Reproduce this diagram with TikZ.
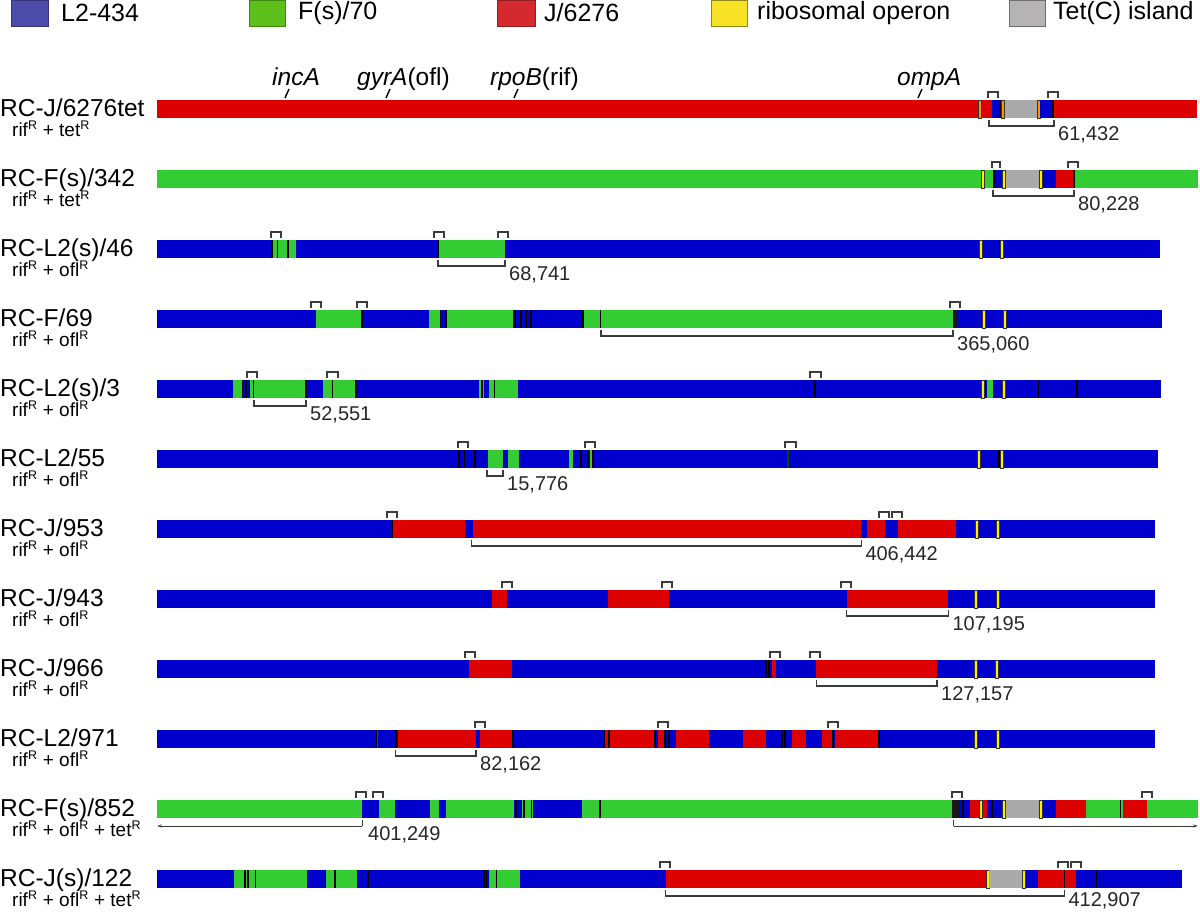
\documentclass[tikz,border=0pt]{standalone}
\usepackage{fontspec}
\setmainfont{Liberation Sans}
\usetikzlibrary{arrows.meta}
\definecolor{barblue}{RGB}{0,0,204}
\definecolor{bargreen}{RGB}{51,204,51}
\definecolor{barred}{RGB}{221,0,0}
\definecolor{bargray}{RGB}{170,170,170}
\definecolor{ribc}{RGB}{255,236,0}
\definecolor{ribo}{RGB}{255,150,0}
\definecolor{lblue}{RGB}{75,75,170}
\definecolor{lgreen}{RGB}{92,191,26}
\definecolor{lred}{RGB}{212,42,47}
\definecolor{lyellow}{RGB}{247,226,37}
\definecolor{lgray}{RGB}{181,179,179}
\definecolor{brkc}{RGB}{60,60,60}
\tikzset{
  sep/.style={line width=1.6pt,black},
  brk/.style={line width=1.1pt,brkc},
  num/.style={anchor=base west,inner sep=0pt,font=\fontsize{20}{22}\selectfont,text=black!85},
  rowlab/.style={anchor=base west,inner sep=0pt,font=\fontsize{24.5}{26}\selectfont},
  sublab/.style={anchor=base west,inner sep=0pt,font=\fontsize{19}{20}\selectfont},
  legbox/.style={line width=0.8pt},
  legtxt/.style={anchor=west,inner sep=0pt,font=\fontsize{25}{27}\selectfont},
  gene/.style={anchor=base west,inner sep=0pt,font=\fontsize{24.5}{26}\selectfont},
  tick/.style={line width=1.4pt,black}
}
\def\RY{100}
\newcommand\sgm[3]{\fill[#3] (#1,\RY) rectangle (#2,\RY+18);}
\newcommand\blk[1]{\draw[sep] (#1,\RY) -- (#1,\RY+18);}
\newcommand\rib[2][ribc]{\filldraw[fill=#1,draw=black!80,line width=0.5pt] (#2-1.6,\RY) rectangle (#2+1.6,\RY+18);}
\newcommand\tbr[2]{\draw[brk] (#1,\RY-2) -- (#1,\RY-8) -- (#2,\RY-8) -- (#2,\RY-2);}
\newcommand\bbr[5][40]{\draw[brk] (#2,\RY+20) -- (#2,\RY+26) -- (#3,\RY+26) -- (#3,\RY+20);
  \node[num] (#5) at (#3+4,\RY+#1) {#4};}
\newcommand\labs[4]{\node[rowlab] (#1) at (0,\RY+16) {#2};
  \node[sublab] (#3) at (12,\RY+36) {#4};}
\newcommand\RR{\textsuperscript{\fontsize{12.5}{13}\selectfont R}}
\begin{document}
\begin{tikzpicture}[x=1pt,y=-1pt]
\useasboundingbox (0,0) rectangle (1200,911);
% legend
\filldraw[legbox,fill=lblue,draw=lblue!70!black] (11,0) rectangle (48,26);
\node[legtxt] (g1) at (61,13) {L2-434};
\filldraw[legbox,fill=lgreen,draw=lgreen!70!black] (249,0) rectangle (285,26);
\node[legtxt] (g2) at (298,13) {F(s)/70};
\filldraw[legbox,fill=lred,draw=lred!70!black] (497,0) rectangle (535,26);
\node[legtxt] (g3) at (544,13) {J/6276};
\filldraw[legbox,fill=lyellow,draw=lyellow!60!black] (711,0) rectangle (747,26);
\node[legtxt] (g4) at (757,13) {ribosomal operon};
\filldraw[legbox,fill=lgray,draw=lgray!60!black] (1009,0) rectangle (1045,26);
\node[legtxt] (g5) at (1053,13) {Tet(C) island};
% genes
\node[gene] (incA) at (272,85) {\itshape incA};
\draw[tick] (285,98) -- (289,89);
\node[gene] (gyrA) at (357,85) {\itshape gyrA\upshape(ofl)};
\draw[tick] (386,98) -- (390,89);
\node[gene] (rpoB) at (490,85) {\itshape rpoB\upshape(rif)};
\draw[tick] (514,98) -- (518,89);
\node[gene] (ompA) at (897,85) {\itshape ompA};
\draw[tick] (918,98) -- (922,89);
% row 1
\def\RY{100}
\labs{l1}{RC-J/6276tet}{s1}{rif\RR\ + tet\RR}
\sgm{157}{1197}{barred}
\rib[ribo]{980}
\sgm{992}{1001}{barblue}\blk{1001}
\rib[ribo]{1003}
\sgm{1005}{1037}{bargray}
\rib[ribo]{1038.5}
\sgm{1040}{1052}{barblue}\blk{1053}
\tbr{988}{998}\tbr{1048}{1058}
\bbr{989}{1054}{61,432}{n1}
% row 2
\def\RY{170}
\labs{l2}{RC-F(s)/342}{s2}{rif\RR\ + tet\RR}
\sgm{157}{1198}{bargreen}
\rib{983}
\sgm{993}{1002}{barblue}\blk{994}
\rib{1004}
\sgm{1006}{1039}{bargray}
\rib{1041}
\sgm{1043}{1056}{barblue}
\sgm{1056}{1073}{barred}\blk{1074}
\tbr{992}{1000}\tbr{1068}{1078}
\bbr{993}{1074}{80,228}{n2}
% row 3
\def\RY{240}
\labs{l3}{RC-L2(s)/46}{s3}{rif\RR\ + ofl\RR}
\sgm{157}{1160}{barblue}
\sgm{271}{296}{bargreen}\blk{272}\blk{277.5}\blk{288}
\sgm{438}{505}{bargreen}\draw[black,line width=0.8pt] (438,240) -- (438,258) (505,240) -- (505,258);
\rib{981}\blk{999.5}\rib{1002}
\tbr{271}{281}\tbr{434}{444}\tbr{498}{508}
\bbr{438}{505}{68,741}{n3}
% row 4
\def\RY{310}
\labs{l4}{RC-F/69}{s4}{rif\RR\ + ofl\RR}
\sgm{157}{1162}{barblue}
\sgm{316}{362}{bargreen}\blk{362}
\sgm{429}{440}{bargreen}\blk{440.5}\blk{446}
\sgm{447}{513}{bargreen}\blk{515}\blk{521}\blk{526}\blk{531}
\sgm{582}{953}{bargreen}\blk{583}\blk{600.5}
\sgm{953}{958}{black!90}
\rib{983.4}\rib{1004.4}
\tbr{311}{321}\tbr{357}{367}\tbr{950}{960}
\bbr{601}{953}{365,060}{n4}
% row 5
\def\RY{380}
\labs{l5}{RC-L2(s)/3}{s5}{rif\RR\ + ofl\RR}
\sgm{157}{1161}{barblue}
\sgm{233}{306}{bargreen}
\sgm{242}{250}{barblue}\blk{242.5}\blk{246}\blk{249.5}\blk{253.5}\blk{306}
\sgm{322.7}{356}{bargreen}\blk{332.5}\blk{356}
\sgm{479}{518}{bargreen}\blk{482}\sgm{484}{489}{barblue}\blk{494.5}
\blk{815}
\rib{983}\blk{985.5}\sgm{987}{993}{bargreen}\rib{1004}
\blk{1038.5}\blk{1077}
\tbr{247}{257}\tbr{327}{338}\tbr{810}{821}
\bbr{254}{306}{52,551}{n5}
% row 6
\def\RY{450}
\labs{l6}{RC-L2/55}{s6}{rif\RR\ + ofl\RR}
\sgm{157}{1158}{barblue}
\blk{459}\blk{461.5}\blk{464.5}\blk{475}
\sgm{487.7}{502.7}{bargreen}\blk{503.5}
\sgm{508.3}{519}{bargreen}
\sgm{569}{572.7}{bargreen}\blk{580.7}\blk{588}\sgm{590}{592}{bargreen}\blk{593}
\draw[line width=1.6pt,black!70!green] (788,450) -- (788,468);
\rib{978.5}\blk{999}\rib{1001.5}
\tbr{458}{468}\tbr{585}{595}\tbr{785}{796}
\bbr{487}{503}{15,776}{n6}
% row 7
\def\RY{520}
\labs{l7}{RC-J/953}{s7}{rif\RR\ + ofl\RR}
\sgm{157}{1155}{barblue}
\sgm{392.5}{464.8}{barred}\draw[black,line width=0.8pt] (392.5,520) -- (392.5,538);
\sgm{472.8}{861.3}{barred}
\sgm{866.7}{885.4}{barred}
\sgm{898.2}{955.8}{barred}
\rib{977}\rib{998}
\tbr{387}{397}\tbr{879}{889}\tbr{892}{902}
\bbr{471.5}{861.3}{406,442}{n7}
% row 8
\def\RY{590}
\labs{l8}{RC-J/943}{s8}{rif\RR\ + ofl\RR}
\sgm{157}{1155}{barblue}
\sgm{491.6}{507}{barred}\draw[black,line width=0.8pt] (507,590) -- (507,608);
\sgm{607.5}{669}{barred}\draw[black,line width=0.8pt] (669,590) -- (669,608);
\sgm{846.6}{948.4}{barred}
\rib{976}\rib{998}
\tbr{502}{512}\tbr{662}{672}\tbr{841}{851}
\bbr{846.6}{948.4}{107,195}{n8}
% row 9
\def\RY{660}
\labs{l9}{RC-J/966}{s9}{rif\RR\ + ofl\RR}
\sgm{157}{1155}{barblue}
\sgm{468.8}{512.4}{barred}
\blk{766}\blk{769}\sgm{771.6}{776.3}{barred}
\sgm{816.4}{937}{barred}
\rib{976}\rib{997}
\tbr{465}{475}\tbr{770}{780}\tbr{810}{820}
\bbr{816.4}{937}{127,157}{n9}
% row 10
\def\RY{730}
\labs{l10}{RC-L2/971}{s10}{rif\RR\ + ofl\RR}
\sgm{157}{1155}{barblue}
\sgm{375.5}{377.5}{barred}\blk{376.5}\blk{395.8}
\sgm{397.8}{476}{barred}\blk{477.5}
\sgm{479.5}{511.7}{barred}\blk{513}
\sgm{604}{612}{barred}\blk{604.5}\blk{609}
\sgm{612}{653.7}{barred}\blk{655}
\sgm{657.7}{664.4}{barred}\blk{665}\blk{669}
\sgm{675.8}{709.3}{barred}
\sgm{742.8}{766.2}{barred}\blk{782}\blk{785}
\sgm{791.7}{806.4}{barred}
\sgm{821.8}{831.8}{barred}\blk{833}
\sgm{834.5}{878.7}{barred}\blk{879}
\rib{976}\rib{998}
\tbr{475}{485}\tbr{658}{668}\tbr{828}{838}
\bbr{395.8}{476}{82,162}{n10}
% row 11
\def\RY{800}
\labs{l11}{RC-F(s)/852}{s11}{rif\RR\ + ofl\RR\ + tet\RR}
\sgm{157}{1198}{bargreen}
\sgm{362.3}{379}{barblue}
\sgm{394.5}{430}{barblue}
\sgm{439.3}{446}{barblue}
\sgm{513.7}{522}{barblue}\blk{516}\blk{524}\blk{531.5}
\sgm{533}{582}{barblue}\blk{600}
\sgm{952.4}{959}{black!90}
\sgm{959}{970}{barblue}\blk{963}
\sgm{970}{987}{barred}\rib{981}
\sgm{987}{1002}{barblue}\blk{992}
\rib{1004}
\sgm{1006}{1039.5}{bargray}
\rib{1041}
\sgm{1043}{1055.5}{barblue}
\sgm{1055.5}{1086.4}{barred}
\blk{1120.5}\sgm{1122.6}{1146.6}{barred}
\tbr{356}{366}\tbr{373}{383}\tbr{952}{962}\tbr{1142}{1152}
\coordinate (a1) at (157,826);
\coordinate (a2) at (362.3,826);
\coordinate (a3) at (953.7,826);
\coordinate (a4) at (1198,826);
\draw[brk,line width=0.9pt,-{Stealth[length=5pt,width=3pt]}] (a2) -- (a1);
\draw[brk,line width=1.1pt] (362.3,820) -- (a2);
\draw[brk,line width=0.9pt,-{Stealth[length=5pt,width=3pt]}] (a3) -- (a4);
\draw[brk,line width=1.1pt] (953.7,820) -- (a3);
\node[num] (n11) at (368,840) {401,249};
% row 12
\def\RY{870}
\labs{l12}{RC-J(s)/122}{s12}{rif\RR\ + ofl\RR\ + tet\RR}
\sgm{157}{1182}{barblue}
\sgm{233.7}{307.4}{bargreen}\blk{245}\blk{248}\blk{255.5}
\sgm{325.5}{357.6}{bargreen}\blk{325.5}\blk{335}\blk{357.6}\blk{367.7}
\blk{484}\blk{486.5}
\sgm{489}{520.4}{bargreen}\blk{496.3}
\sgm{665.7}{986}{barred}
\rib{987.5}
\sgm{989}{1022.7}{bargray}
\rib{1024}
\sgm{1037.5}{1076.3}{barred}\blk{1064.3}
\blk{1096.4}
\tbr{660}{670}\tbr{1058}{1068}\tbr{1071}{1081}
\bbr[36.5]{665.7}{1064.3}{412,907}{n12}
\end{tikzpicture}
\end{document}
